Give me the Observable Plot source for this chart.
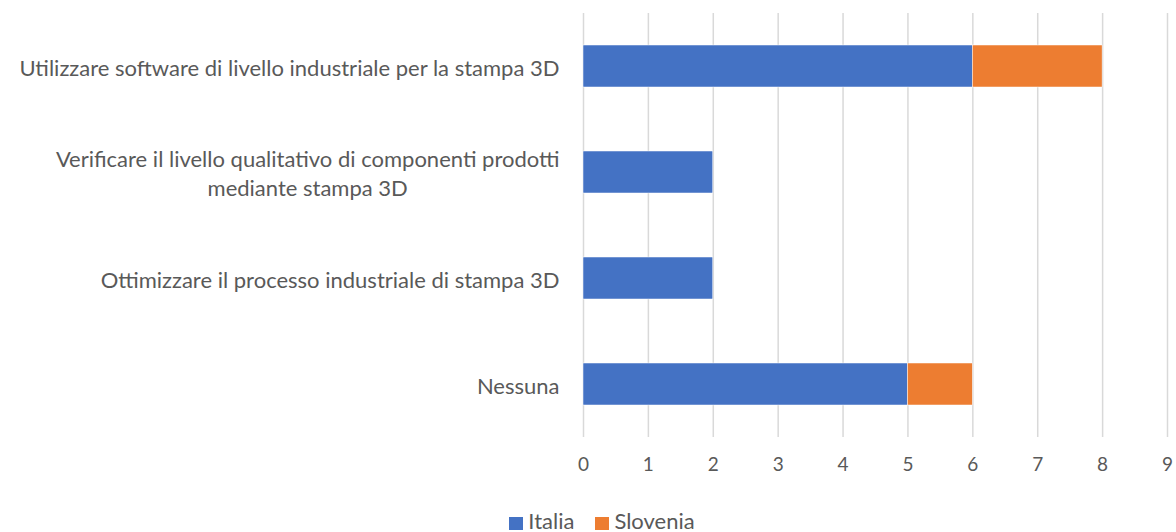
<!DOCTYPE html>
<html><head><meta charset="utf-8">
<script src="https://cdn.jsdelivr.net/npm/d3@7"></script>
<script src="https://cdn.jsdelivr.net/npm/@observablehq/plot@0.6"></script>
<style>
body{margin:0;background:#fff;font-family:Lato,"Open Sans",sans-serif;}
#legend{display:flex;justify-content:center;align-items:center;gap:21px;font-size:22px;line-height:26px;color:#595959;padding-left:28px;margin-top:8px;}
#legend span.sw{display:inline-block;width:14px;height:13px;margin-right:5px;vertical-align:-1px;}
</style>
</head><body><div id="chart"></div><div id="legend"></div>
<script>
const categories = [
  "Utilizzare software di livello industriale per la stampa 3D",
  "Verificare il livello qualitativo di componenti prodotti\nmediante stampa 3D",
  "Ottimizzare il processo industriale di stampa 3D",
  "Nessuna"
];
const seriesNames = ["Italia", "Slovenia"];
const italia = [6, 2, 2, 5];
const slovenia = [2, 0, 0, 1];
const xTicks = [0, 1, 2, 3, 4, 5, 6, 7, 8, 9];
const colors = ["#4472C4", "#ED7D31"];

const values = [italia, slovenia];
const data = [];
seriesNames.forEach((s, si) => categories.forEach((c, ci) => data.push({cat: c, series: s, value: values[si][ci]})));

const font = "Lato, 'Open Sans', sans-serif";
const chart = Plot.plot({
  width: 1176, height: 500,
  marginLeft: 583, marginRight: 9, marginTop: 13, marginBottom: 63,
  style: {fontFamily: font, fontSize: "18px", color: "#595959", background: "#fff"},
  x: {domain: [0, 9], ticks: xTicks, label: null},
  y: {domain: categories, paddingInner: 0.6, paddingOuter: 0.3, label: null},
  color: {domain: seriesNames, range: colors},
  marks: [
    Plot.gridX(xTicks, {stroke: "#d9d9d9", strokeOpacity: 1, strokeWidth: 1.5}),
    Plot.barX(data, {y: "cat", x: "value", fill: "series", order: seriesNames, stroke: "#fff", strokeWidth: 0.5}),
    Plot.axisX(xTicks, {tickSize: 0, tickPadding: 20, fontSize: 19, fill: "#595959"}),
    Plot.axisY({tickSize: 0, tickPadding: 24, fontSize: 22, fill: "#595959", lineHeight: 1.32})
  ]
});
document.getElementById("chart").appendChild(chart);

// center multi-line y labels like the original
chart.querySelectorAll('g[aria-label="y-axis tick label"] text').forEach(t => {
  const spans = t.querySelectorAll("tspan");
  if (spans.length > 1) {
    let w = 0;
    spans.forEach(s => { w = Math.max(w, s.getComputedTextLength()); });
    t.setAttribute("text-anchor", "middle");
    spans.forEach(s => s.setAttribute("x", String(-w / 2)));
  }
});

const legend = document.getElementById("legend");
seriesNames.forEach((s, i) => {
  const d = document.createElement("div");
  d.innerHTML = `<span class="sw" style="background:${colors[i]}"></span>${s}`;
  legend.appendChild(d);
});
</script>
</body></html>
